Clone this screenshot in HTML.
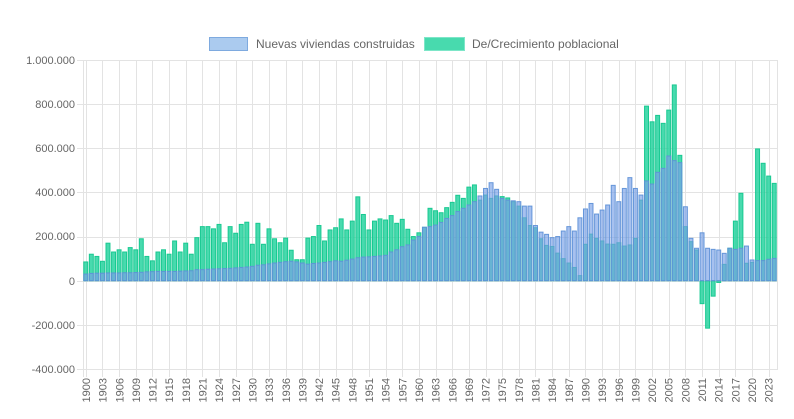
<!DOCTYPE html>
<html><head><meta charset="utf-8"><style>
html,body{margin:0;padding:0;background:#fff;}
svg{display:block;font-family:"Liberation Sans",Arial,sans-serif;}
</style></head><body>
<svg id="c" width="794" height="419" viewBox="0 0 794 419" xmlns="http://www.w3.org/2000/svg">
<g id="grid" stroke="#e3e3e3" stroke-width="1"></g>
<g id="bars"></g>
<g fill="#666" font-size="11" text-anchor="end">
<text x="75" y="64">1.000.000</text>
<text x="75" y="108">800.000</text>
<text x="75" y="152">600.000</text>
<text x="75" y="196">400.000</text>
<text x="75" y="240">200.000</text>
<text x="75" y="285">0</text>
<text x="75" y="329">-200.000</text>
<text x="75" y="373">-400.000</text>
</g>
<g id="xl" fill="#666" font-size="11" text-anchor="end">
<text transform="translate(90,378) rotate(-90)">1900</text>
<text transform="translate(106.6,378) rotate(-90)">1903</text>
<text transform="translate(123.3,378) rotate(-90)">1906</text>
<text transform="translate(139.9,378) rotate(-90)">1909</text>
<text transform="translate(156.6,378) rotate(-90)">1912</text>
<text transform="translate(173.2,378) rotate(-90)">1915</text>
<text transform="translate(189.9,378) rotate(-90)">1918</text>
<text transform="translate(206.5,378) rotate(-90)">1921</text>
<text transform="translate(223.2,378) rotate(-90)">1924</text>
<text transform="translate(239.8,378) rotate(-90)">1927</text>
<text transform="translate(256.5,378) rotate(-90)">1930</text>
<text transform="translate(273.1,378) rotate(-90)">1933</text>
<text transform="translate(289.8,378) rotate(-90)">1936</text>
<text transform="translate(306.4,378) rotate(-90)">1939</text>
<text transform="translate(323.1,378) rotate(-90)">1942</text>
<text transform="translate(339.7,378) rotate(-90)">1945</text>
<text transform="translate(356.4,378) rotate(-90)">1948</text>
<text transform="translate(373,378) rotate(-90)">1951</text>
<text transform="translate(389.7,378) rotate(-90)">1954</text>
<text transform="translate(406.3,378) rotate(-90)">1957</text>
<text transform="translate(423,378) rotate(-90)">1960</text>
<text transform="translate(439.6,378) rotate(-90)">1963</text>
<text transform="translate(456.3,378) rotate(-90)">1966</text>
<text transform="translate(472.9,378) rotate(-90)">1969</text>
<text transform="translate(489.6,378) rotate(-90)">1972</text>
<text transform="translate(506.2,378) rotate(-90)">1975</text>
<text transform="translate(522.9,378) rotate(-90)">1978</text>
<text transform="translate(539.5,378) rotate(-90)">1981</text>
<text transform="translate(556.2,378) rotate(-90)">1984</text>
<text transform="translate(572.8,378) rotate(-90)">1987</text>
<text transform="translate(589.5,378) rotate(-90)">1990</text>
<text transform="translate(606.1,378) rotate(-90)">1993</text>
<text transform="translate(622.8,378) rotate(-90)">1996</text>
<text transform="translate(639.4,378) rotate(-90)">1999</text>
<text transform="translate(656.1,378) rotate(-90)">2002</text>
<text transform="translate(672.7,378) rotate(-90)">2005</text>
<text transform="translate(689.4,378) rotate(-90)">2008</text>
<text transform="translate(706,378) rotate(-90)">2011</text>
<text transform="translate(722.7,378) rotate(-90)">2014</text>
<text transform="translate(739.3,378) rotate(-90)">2017</text>
<text transform="translate(756,378) rotate(-90)">2020</text>
<text transform="translate(772.6,378) rotate(-90)">2023</text>
</g>
<rect x="209.5" y="37.5" width="38" height="13" fill="rgba(150,190,235,0.8)" stroke="#7eaadf"/>
<text x="256" y="48" fill="#666" font-size="12">Nuevas viviendas construidas</text>
<rect x="424.5" y="37.5" width="40" height="13" fill="rgba(40,212,160,0.85)" stroke="#7de6c8"/>
<text x="472" y="48" fill="#666" font-size="12">De/Crecimiento poblacional</text>
</svg>
<script>
var G=[85,120,110,88,170,130,140,130,150,140,190,110,90,130,140,120,180,130,170,120,195,245,245,235,255,172,245,215,255,265,165,260,165,235,190,172,193,138,95,95,193,200,250,180,230,240,280,230,270,380,300,230,270,280,275,295,260,
278,233,200,217,242,328,317,308,331,355,387,373,424,434,365,388,373,384,381,375,358,338,285,250,240,190,160,155,125,100,80,60,23,165,211,192,180,166,165,172,157,162,192,365,
791,720,749,713,773,887,568,245,177,139,-104,-215,-70,-8,74,147,270,396,79,83,597,532,474,441];
var B=[30,33,34,34,35,35,35,36,36,37,38,40,41,42,42,42,42,43,44,45,50,50,52,53,54,55,56,58,60,62,65,70,72,76,80,83,86,88,85,80,75,78,80,83,86,90,88,93,98,104,107,108,110,112,115,130,140,
154,162,184,200,242,245,252,264,282,295,313,328,343,358,384,418,444,414,373,365,362,358,338,338,250,220,210,195,200,225,245,225,285,325,350,302,320,343,432,358,418,467,418,388,
452,438,491,509,565,544,535,335,192,147,217,147,142,139,124,147,142,147,157,94,91,91,97,101];
var ns="http://www.w3.org/2000/svg";
function y(v){return 280.7-v*0.2207;}
var x0=83,st=694/125,gb=document.getElementById('bars'),gg=document.getElementById('grid');
function ln(a,b,c,d){var l=document.createElementNS(ns,'line');l.setAttribute('x1',a);l.setAttribute('y1',b);l.setAttribute('x2',c);l.setAttribute('y2',d);gg.appendChild(l);}
for(var v=-400;v<=1000;v+=200){var yy=Math.round(y(v))+0.5;ln(77,yy,777,yy);}
for(var i=0;i<=123;i+=3){var xx=Math.round(x0+st*(i+0.5))+0.5;ln(xx,60,xx,377);}
ln(777.5,60,777.5,370);ln(83.5,60,83.5,377);
function rc(i,v,f,s){var r=document.createElementNS(ns,'rect');var a=y(0),b=y(v);
r.setAttribute('x',x0+st*i+0.8);r.setAttribute('width',st-1.6);r.setAttribute('y',Math.min(a,b));r.setAttribute('height',Math.max(0.5,Math.abs(a-b)));
r.setAttribute('fill',f);r.setAttribute('stroke',s);r.setAttribute('stroke-width',1);gb.appendChild(r);}
for(var i=0;i<125;i++)rc(i,G[i],'rgba(40,212,160,0.85)','#18c991');
for(var i=0;i<125;i++)rc(i,B[i],'rgba(120,160,230,0.65)','rgba(95,145,215,0.95)');
</script>
</body></html>
